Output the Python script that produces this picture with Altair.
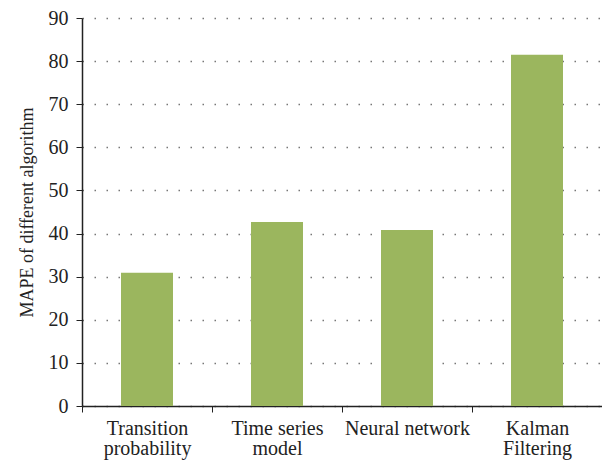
import altair as alt
import pandas as pd

categories = ["Transition probability", "Time series model", "Neural network", "Kalman Filtering"]
values = [30.9, 42.7, 40.8, 81.5]

df = pd.DataFrame({"algorithm": categories, "mape": values})

label_expr = (
    "datum.value == 'Transition probability' ? ['Transition', 'probability'] : "
    "datum.value == 'Time series model' ? ['Time series', 'model'] : "
    "datum.value == 'Kalman Filtering' ? ['Kalman\u00a0\u00a0', 'Filtering'] : datum.value"
)

FONT = "Liberation Serif"

chart = alt.Chart(df).mark_bar(color="#9BB65E", width=alt.RelativeBandSize(0.4)).encode(
    x=alt.X(
        "algorithm:N",
        sort=categories,
        title=None,
        scale=alt.Scale(paddingInner=0, paddingOuter=0),
        axis=alt.Axis(
            labelAngle=0,
            labelExpr=label_expr,
            labelFont=FONT,
            labelFontSize=20,
            labelColor="#222222",
            labelPadding=6,
            labelLineHeight=20,
            tickBand="extent",
            tickSize=6,
            tickColor="#222222",
            domainColor="#222222",
            domainWidth=1.5,
            grid=False,
        ),
    ),
    y=alt.Y(
        "mape:Q",
        title="MAPE of different algorithm",
        scale=alt.Scale(domain=[0, 90]),
        axis=alt.Axis(
            values=[0, 10, 20, 30, 40, 50, 60, 70, 80, 90],
            labelFont=FONT,
            labelFontSize=20,
            labelColor="#222222",
            labelPadding=8,
            titleFont=FONT,
            titleFontSize=18,
            titleFontWeight="normal",
            titleColor="#222222",
            titlePadding=12,
            tickSize=6,
            tickColor="#222222",
            domainColor="#222222",
            domainWidth=1.5,
            grid=True,
            gridColor="#777777",
            gridDash=[1.5, 10.5],
            gridWidth=1.5,
        ),
    ),
).properties(
    width=520,
    height=388,
    padding={"left": 74, "top": 10, "right": 0, "bottom": 56},
    autosize=alt.AutoSizeParams(type="none"),
).configure_view(stroke=None)

chart.save("out.html", embed_options={"renderer": "svg", "actions": False})
